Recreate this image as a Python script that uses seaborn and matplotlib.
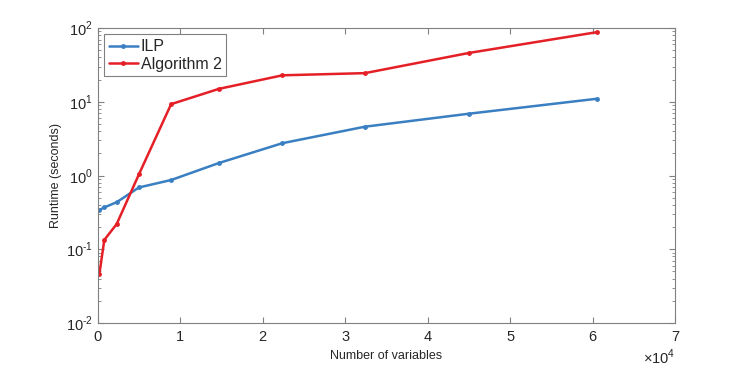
import matplotlib
matplotlib.use("Agg")
import matplotlib.pyplot as plt
import matplotlib.ticker as ticker
import seaborn as sns
import pandas as pd
import numpy as np

# number of variables per instance
n_vars = [200, 800, 2300, 5000, 8900, 14700, 22400, 32400, 45000, 60500]

# runtimes (seconds)
ilp_time = [0.34, 0.37, 0.435, 0.69, 0.87, 1.48, 2.75, 4.6, 6.9, 11.0]
alg2_time = [0.046, 0.134, 0.22, 1.04, 9.3, 15.0, 22.9, 24.5, 46.0, 88.0]

series = ["ILP", "Algorithm 2"]
colors = ["#3a7fc2", "#e41f26"]

df = pd.DataFrame({
    "n": n_vars * 2,
    "t": ilp_time + alg2_time,
    "method": [series[0]] * len(n_vars) + [series[1]] * len(n_vars),
})

sns.set_style("ticks")
plt.rcParams["font.family"] = ["Liberation Sans", "DejaVu Sans"]
plt.rcParams["mathtext.fontset"] = "custom"
plt.rcParams["mathtext.rm"] = "Liberation Sans"
plt.rcParams["axes.unicode_minus"] = False


def pow10(v, pos):
    e = int(round(np.log10(v)))
    if e < 0:
        return r"$10^{\text{-}%d}$" % (-e)
    return r"$10^{%d}$" % e


fig = plt.figure(figsize=(7.47, 3.65), dpi=100)
ax = fig.add_axes([0.1308, 0.115, 0.7728, 0.808])

sns.lineplot(data=df, x="n", y="t", hue="method", hue_order=series,
             palette=colors, marker="o", markersize=3.5, markeredgewidth=0,
             linewidth=1.8, ax=ax)

ax.set_yscale("log")
ax.set_ylim(1e-2, 1e2)
ax.set_xlim(0, 70000)
ax.xaxis.set_major_locator(ticker.MultipleLocator(10000))
ax.xaxis.set_major_formatter(ticker.FuncFormatter(lambda v, p: "%d" % round(v / 1e4)))
ax.text(1.0, -0.082, r"$\times10^{4}$", transform=ax.transAxes, ha="right",
        va="top", fontsize=10.5, color="#262626")

ax.yaxis.set_major_locator(ticker.LogLocator(base=10, numticks=10))
ax.yaxis.set_major_formatter(ticker.FuncFormatter(pow10))
ax.yaxis.set_minor_locator(ticker.LogLocator(base=10, subs=range(2, 10), numticks=20))
ax.yaxis.set_minor_formatter(ticker.NullFormatter())

for sp in ax.spines.values():
    sp.set_visible(True)
    sp.set_color("#808080")
    sp.set_linewidth(0.8)

ax.tick_params(which="both", direction="in", top=True, right=True,
               color="#808080", labelcolor="#262626", labelsize=10.5)
ax.tick_params(which="major", length=4, width=0.8)
ax.tick_params(which="minor", length=2, width=0.6)
ax.tick_params(axis="x", pad=5)

ax.set_xlabel("Number of variables", fontsize=9, color="#262626", labelpad=4)
ax.set_ylabel("Runtime (seconds)", fontsize=9, color="#262626", labelpad=3)

leg = ax.legend(loc="upper left", fontsize=11.5, frameon=True, fancybox=False,
                handlelength=1.8, handletextpad=0.2, borderpad=0.3,
                labelspacing=0.15, borderaxespad=0.4)
leg.get_frame().set_edgecolor("#808080")
leg.get_frame().set_linewidth(0.8)
leg.get_frame().set_alpha(1)

fig.savefig("out.png", dpi=100)
